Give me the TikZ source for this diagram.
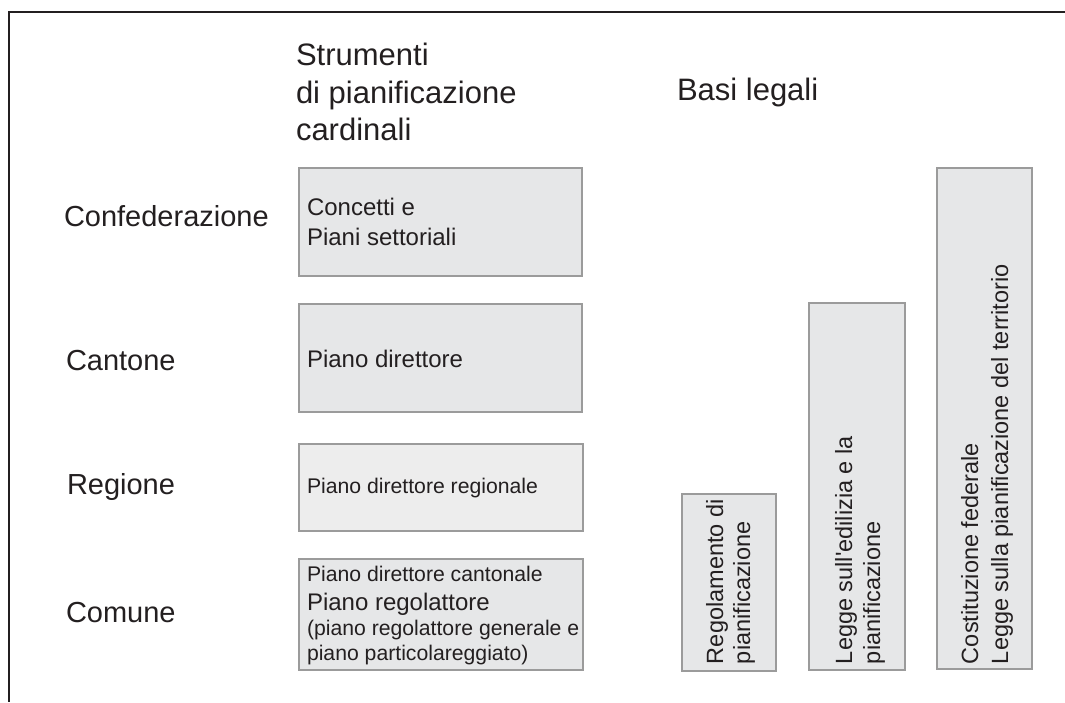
\documentclass[tikz,border=0pt]{standalone}
\usepackage{fontspec}
\setmainfont{Liberation Sans}
\definecolor{ink}{HTML}{231F20}
\definecolor{boxfill}{HTML}{E6E7E8}
\definecolor{boxfilllight}{HTML}{EDEDED}
\definecolor{boxline}{HTML}{9B9B9B}
\newcommand{\straightquote}{\XeTeXglyph\XeTeXcharglyph"0027\relax}
\begin{document}
\begin{tikzpicture}[x=1pt,y=-1pt,
  box/.style={draw=boxline, line width=2.4pt, fill=boxfill, inner sep=0pt},
  txt/.style={anchor=base west, inner sep=0pt, outer sep=0pt, text=ink},
  head/.style={txt, font=\fontsize{31}{37}\selectfont},
  level/.style={txt, font=\fontsize{29}{34}\selectfont},
  big/.style={txt, font=\fontsize{24}{28}\selectfont},
  small/.style={txt, font=\fontsize{21.2}{25}\selectfont},
  vert/.style={txt, rotate=90, font=\fontsize{23.5}{28}\selectfont},
  frame/.style={draw=ink, line width=2.8pt, line join=miter}]
\useasboundingbox (0,0) rectangle (1065,702);

% frame
\coordinate (fr1) at (1065,12);
\coordinate (fr2) at (9,12);
\coordinate (fr3) at (9,702);
\draw[frame] (fr1) -- (fr2) -- (fr3);

% headers
\node[head] (h1) at (296,65) {Strumenti};
\node[head] (h2) at (296,103) {di pianificazione};
\node[head] (h3) at (296,140) {cardinali};
\node[head] (h4) at (677,100) {Basi legali};

% levels
\node[level] (l1) at (64,226) {Confederazione};
\node[level] (l2) at (66,370) {Cantone};
\node[level] (l3) at (67,494) {Regione};
\node[level] (l4) at (66,622) {Comune};

% planning instrument boxes
\node[box, minimum width=282.5pt, minimum height=107.5pt] (conf) at (440.5,222) {};
\node[box, minimum width=282.5pt, minimum height=107.5pt] (cant) at (440.5,358) {};
\node[box, fill=boxfilllight, minimum width=283.5pt, minimum height=86.5pt] (reg) at (441,487.5) {};
\node[box, minimum width=283.5pt, minimum height=110.5pt] (com) at (441,614.5) {};

\node[big] (t1a) at (307,215) {Concetti e};
\node[big] (t1b) at (307,245) {Piani settoriali};
\node[big] (t2) at (307,367) {Piano direttore};
\node[small] (t3) at (307,493) {Piano direttore regionale};
\node[small] (t4a) at (307,581) {Piano direttore cantonale};
\node[big] (t4b) at (307,610) {Piano regolattore};
\node[small] (t4c) at (307,635) {(piano regolattore generale e};
\node[small] (t4d) at (307,660) {piano particolareggiato)};

% legal basis boxes
\node[box, minimum width=93.5pt, minimum height=176.5pt] (rego) at (729,582.5) {};
\node[box, minimum width=95.5pt, minimum height=366.5pt] (legge) at (857,486.5) {};
\node[box, minimum width=94.5pt, minimum height=500.5pt] (cost) at (984.5,418.5) {};

\node[vert] (v1a) at (723,664) {Regolamento di};
\node[vert] (v1b) at (750,664) {pianificazione};
\node[vert] (v2a) at (852,664) {Legge sull\straightquote edilizia e la};
\node[vert] (v2b) at (880,664) {pianificazione};
\node[vert] (v3a) at (978,664) {Costituzione federale};
\node[vert] (v3b) at (1008,664) {Legge sulla pianificazione del territorio};
\end{tikzpicture}
\end{document}
